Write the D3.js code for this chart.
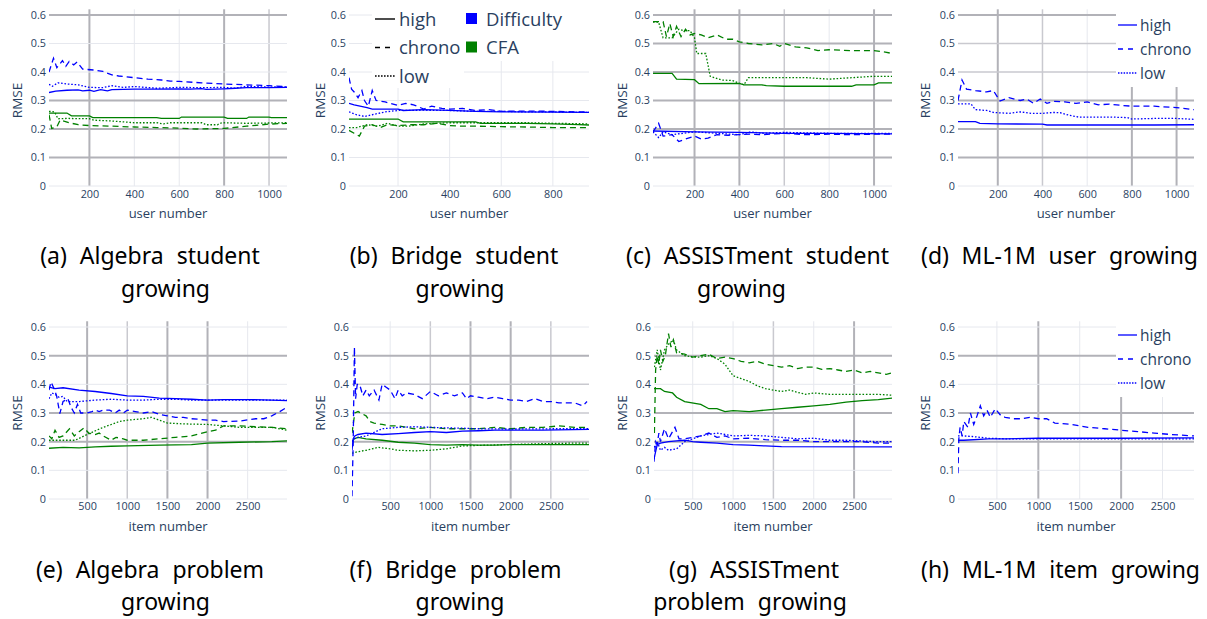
<!DOCTYPE html>
<html>
<head>
<meta charset="utf-8">
<script src="https://cdn.jsdelivr.net/npm/d3@7"></script>
<style>
  body { margin: 0; background: #fff; }
</style>
</head>
<body>
<script>
// ---- ticks / labels ----
const yTicks = [0, 0.1, 0.2, 0.3, 0.4, 0.5, 0.6];
const userTicks = [200, 400, 600, 800, 1000];
const userTicksBridge = [200, 400, 600, 800];
const itemTicks = [500, 1000, 1500, 2000, 2500];
const strategies = ['high', 'chrono', 'low'];
const models = ['Difficulty', 'CFA'];

// ---- (a) Algebra student growing ----
const aDiffHigh = [[20,.328],[50,.333],[100,.336],[150,.337],[170,.334],[200,.336],[220,.332],[250,.338],[280,.334],[300,.338],[400,.340],[500,.340],[600,.341],[650,.340],[700,.342],[720,.339],[800,.341],[850,.343],[900,.345],[1000,.345],[1080,.346]];
const aDiffChrono = [[20,.40],[40,.448],[55,.415],[80,.44],[95,.42],[110,.437],[130,.425],[145,.435],[170,.41],[220,.407],[260,.402],[300,.39],[330,.386],[400,.38],[460,.375],[520,.372],[560,.368],[600,.367],[700,.362],[800,.358],[900,.355],[1000,.352],[1080,.348]];
const aDiffLow = [[20,.357],[35,.350],[60,.362],[100,.358],[150,.355],[200,.346],[260,.345],[300,.352],[350,.346],[400,.349],[500,.343],[600,.346],[700,.345],[800,.346],[850,.343],[900,.350],[1000,.347],[1080,.348]];
const aCfaHigh = [[20,.256],[100,.256],[120,.246],[200,.246],[215,.24],[500,.24],[520,.237],[600,.237],[610,.242],[800,.242],[815,.237],[900,.237],[910,.242],[1000,.242],[1010,.24],[1080,.24]];
const aCfaChrono = [[20,.25],[32,.202],[55,.208],[70,.232],[110,.222],[150,.215],[200,.212],[300,.21],[400,.207],[500,.205],[600,.203],[680,.2],[800,.202],[900,.21],[1000,.217],[1080,.22]];
const aCfaLow = [[20,.262],[45,.26],[60,.236],[100,.237],[200,.236],[220,.231],[300,.228],[400,.222],[500,.222],[530,.218],[560,.222],[700,.222],[720,.215],[770,.215],[790,.222],[900,.22],[1080,.222]];

// ---- (b) Bridge student growing ----
const bDiffHigh = [[10,.29],[30,.285],[80,.275],[100,.27],[200,.27],[220,.265],[300,.268],[400,.265],[500,.262],[600,.26],[940,.258]];
const bDiffChrono = [[10,.38],[20,.34],[30,.33],[45,.31],[60,.335],[70,.30],[85,.28],[100,.335],[115,.30],[150,.295],[200,.283],[230,.29],[260,.285],[300,.27],[330,.28],[370,.272],[400,.27],[450,.272],[500,.265],[550,.268],[600,.262],[700,.263],[800,.262],[900,.26],[940,.26]];
const bDiffLow = [[10,.26],[40,.25],[70,.244],[100,.25],[150,.26],[200,.265],[300,.266],[400,.265],[500,.262],[600,.262],[700,.26],[800,.26],[940,.258]];
const bCfaHigh = [[10,.235],[200,.235],[220,.225],[500,.225],[520,.22],[700,.22],[800,.218],[900,.215],[940,.214]];
const bCfaChrono = [[10,.195],[30,.185],[50,.175],[70,.21],[100,.215],[130,.205],[160,.215],[200,.212],[250,.215],[300,.215],[350,.22],[400,.212],[450,.21],[500,.21],[600,.208],[700,.207],[800,.205],[940,.205]];
const bCfaLow = [[10,.205],[40,.205],[80,.215],[120,.21],[160,.22],[200,.21],[240,.21],[300,.218],[400,.222],[500,.222],[600,.222],[700,.222],[800,.22],[940,.218]];

// ---- (c) ASSISTment student growing ----
const cDiffHigh = [[15,.193],[200,.19],[400,.188],[600,.185],[800,.185],[1080,.183]];
const cDiffChrono = [[15,.19],[40,.22],[60,.175],[100,.18],[130,.156],[160,.165],[200,.175],[230,.165],[260,.168],[300,.18],[350,.178],[400,.18],[450,.182],[500,.18],[600,.185],[700,.18],[800,.182],[900,.18],[1000,.182],[1080,.182]];
const cDiffLow = [[15,.19],[40,.17],[60,.19],[100,.18],[150,.185],[200,.19],[300,.185],[400,.18],[450,.19],[500,.185],[600,.188],[800,.185],[1080,.185]];
const cCfaHigh = [[15,.395],[100,.395],[120,.375],[200,.373],[220,.359],[400,.36],[420,.355],[500,.355],[520,.352],[600,.35],[900,.35],[920,.355],[1000,.355],[1020,.362],[1080,.362]];
const cCfaChrono = [[15,.577],[60,.577],[75,.524],[90,.57],[105,.524],[120,.56],[140,.524],[160,.55],[180,.53],[200,.535],[230,.53],[260,.52],[300,.53],[340,.515],[370,.515],[400,.506],[440,.50],[500,.495],[550,.50],[580,.49],[600,.50],[650,.488],[700,.485],[750,.475],[800,.478],[900,.475],[1000,.475],[1050,.47],[1080,.465]];
const cCfaLow = [[15,.575],[40,.575],[60,.52],[100,.52],[130,.55],[150,.545],[180,.545],[200,.52],[210,.465],[250,.465],[270,.385],[320,.372],[370,.37],[400,.36],[420,.355],[440,.38],[500,.38],[700,.38],[800,.375],[900,.38],[1000,.385],[1080,.385]];

// ---- (d) ML-1M user growing ----
const dHigh = [[22,.226],[100,.226],[120,.22],[200,.218],[400,.217],[420,.214],[900,.214],[1078,.215]];
const dChrono = [[22,.30],[40,.372],[60,.34],[100,.335],[150,.33],[180,.335],[210,.298],[250,.31],[300,.30],[330,.305],[360,.29],[390,.305],[420,.29],[450,.297],[500,.295],[550,.29],[600,.295],[650,.285],[700,.287],[750,.283],[800,.28],[900,.28],[1000,.275],[1078,.268]];
const dLow = [[22,.288],[80,.288],[100,.268],[150,.265],[180,.258],[250,.255],[300,.26],[350,.255],[400,.255],[450,.258],[480,.257],[520,.248],[560,.242],[700,.242],[780,.24],[800,.235],[900,.237],[1000,.237],[1078,.234]];

// ---- (e) Algebra problem growing ----
const eDiffHigh = [[25,.39],[100,.385],[200,.388],[400,.38],[600,.375],[800,.368],[1000,.36],[1200,.358],[1400,.352],[1600,.35],[1800,.348],[2000,.345],[2200,.347],[2500,.347],[2800,.345],[2990,.343]];
const eDiffChrono = [[25,.38],[50,.408],[80,.39],[120,.36],[160,.298],[200,.34],[260,.35],[300,.32],[340,.30],[380,.33],[420,.30],[500,.30],[560,.305],[600,.31],[650,.305],[700,.31],[780,.31],[850,.30],[900,.31],[950,.30],[1000,.31],[1100,.305],[1200,.30],[1300,.305],[1400,.295],[1500,.29],[1600,.285],[1700,.285],[1800,.28],[1900,.278],[2000,.275],[2100,.275],[2200,.27],[2400,.272],[2600,.28],[2700,.28],[2800,.29],[2900,.305],[2990,.32]];
const eDiffLow = [[25,.35],[60,.37],[100,.365],[150,.355],[200,.358],[250,.34],[400,.34],[600,.345],[800,.348],[1000,.345],[1200,.345],[1400,.348],[1600,.348],[1800,.345],[2000,.345],[2400,.345],[2800,.345],[2990,.345]];
const eCfaHigh = [[25,.177],[200,.18],[400,.178],[600,.182],[800,.184],[1000,.185],[1400,.188],[1800,.19],[2000,.195],[2400,.198],[2800,.2],[2990,.203]];
const eCfaChrono = [[25,.22],[60,.21],[100,.24],[150,.215],[200,.22],[280,.245],[340,.22],[400,.235],[460,.248],[520,.23],[600,.225],[650,.23],[700,.22],[800,.205],[860,.215],[950,.21],[1000,.205],[1200,.205],[1400,.21],[1600,.215],[1800,.22],[2000,.235],[2100,.24],[2200,.255],[2400,.255],[2600,.252],[2800,.25],[2990,.245]];
const eCfaLow = [[25,.205],[200,.205],[350,.205],[500,.225],[700,.25],[900,.27],[1000,.275],[1200,.28],[1300,.285],[1400,.275],[1500,.265],[1700,.262],[2000,.26],[2200,.255],[2400,.25],[2800,.25],[2990,.24]];

// ---- (f) Bridge problem growing ----
const fDiffHigh = [[25,.17],[40,.21],[60,.22],[100,.225],[200,.23],[400,.225],[600,.228],[800,.232],[1000,.235],[1200,.232],[1400,.237],[1600,.238],[1800,.24],[2400,.24],[2975,.243]];
const fDiffChrono = [[25,.01],[40,.20],[55,.53],[70,.35],[90,.40],[120,.40],[160,.36],[200,.38],[240,.36],[300,.38],[360,.345],[400,.40],[450,.39],[500,.38],[560,.35],[600,.38],[650,.36],[700,.37],[800,.365],[900,.35],[1000,.375],[1100,.36],[1200,.37],[1300,.36],[1400,.37],[1450,.35],[1500,.36],[1600,.355],[1700,.35],[1800,.355],[1900,.35],[2000,.345],[2100,.345],[2200,.34],[2300,.35],[2400,.34],[2500,.34],[2600,.335],[2700,.335],[2800,.335],[2900,.325],[2950,.34]];
const fDiffLow = [[25,.20],[50,.21],[100,.215],[200,.22],[400,.245],[600,.25],[800,.252],[1000,.25],[1200,.248],[1400,.247],[1600,.245],[2000,.244],[2500,.245],[2975,.245]];
const fCfaHigh = [[25,.20],[50,.21],[100,.215],[200,.21],[400,.205],[600,.198],[800,.195],[1000,.19],[1200,.188],[1400,.19],[1600,.188],[1800,.188],[2000,.19],[2975,.19]];
const fCfaChrono = [[25,.23],[60,.30],[100,.305],[200,.29],[250,.27],[300,.265],[400,.26],[500,.255],[600,.255],[800,.245],[1000,.25],[1200,.245],[1600,.245],[1800,.25],[2000,.245],[2200,.25],[2400,.25],[2600,.255],[2800,.25],[2975,.25]];
const fCfaLow = [[25,.16],[100,.165],[200,.17],[350,.18],[500,.175],[600,.17],[800,.168],[1000,.17],[1200,.175],[1400,.185],[1600,.187],[2000,.19],[2400,.193],[2800,.195],[2975,.195]];

// ---- (g) ASSISTment problem growing ----
const gDiffHigh = [[20,.14],[60,.19],[100,.195],[200,.20],[300,.203],[400,.205],[500,.20],[600,.198],[800,.195],[1000,.19],[1200,.188],[1400,.185],[1600,.183],[2970,.182]];
const gDiffChrono = [[20,.13],[40,.20],[60,.19],[80,.23],[100,.20],[150,.245],[200,.21],[280,.25],[330,.21],[400,.21],[500,.215],[600,.22],[700,.23],[800,.215],[900,.22],[1000,.21],[1200,.212],[1400,.207],[1600,.205],[1800,.205],[2000,.2],[2600,.2],[2800,.195],[2970,.195]];
const gDiffLow = [[20,.18],[60,.2],[100,.17],[150,.18],[200,.17],[300,.175],[400,.2],[500,.21],[600,.22],[700,.225],[800,.23],[900,.225],[1000,.22],[1200,.222],[1400,.22],[1600,.215],[1800,.21],[2000,.212],[2200,.205],[2400,.205],[2600,.202],[2800,.2],[2970,.2]];
const gCfaHigh = [[20,.385],[100,.385],[150,.375],[250,.37],[300,.355],[400,.34],[600,.33],[700,.315],[800,.315],[900,.305],[1000,.308],[1200,.305],[1400,.31],[1600,.315],[1800,.32],[2000,.325],[2200,.33],[2400,.338],[2600,.343],[2800,.347],[2970,.352]];
const gCfaChrono = [[25,.23],[40,.45],[60,.50],[80,.47],[100,.52],[130,.48],[160,.50],[200,.577],[230,.53],[260,.555],[300,.51],[400,.505],[500,.495],[600,.50],[700,.505],[800,.49],[900,.495],[1000,.49],[1100,.48],[1200,.475],[1300,.48],[1400,.47],[1500,.465],[1600,.46],[1700,.465],[1800,.455],[1900,.46],[2000,.46],[2100,.452],[2200,.455],[2300,.45],[2400,.445],[2500,.45],[2600,.44],[2700,.445],[2800,.44],[2900,.435],[2970,.44]];
const gCfaLow = [[25,.46],[60,.52],[100,.45],[150,.52],[200,.54],[260,.555],[300,.52],[400,.50],[500,.495],[600,.495],[700,.5],[800,.49],[900,.47],[1000,.43],[1100,.42],[1200,.41],[1300,.395],[1400,.385],[1500,.38],[1600,.375],[1700,.38],[1800,.372],[1900,.365],[2000,.37],[2200,.365],[2800,.365],[2970,.362]];

// ---- (h) ML-1M item growing ----
const hHigh = [[30,.205],[100,.205],[400,.21],[600,.21],[1000,.212],[2000,.212],[2880,.213]];
const hChrono = [[30,.09],[40,.21],[55,.25],[80,.22],[100,.27],[150,.25],[180,.30],[220,.26],[260,.29],[300,.325],[340,.29],[380,.31],[420,.285],[480,.315],[550,.29],[600,.285],[700,.28],[800,.28],[900,.285],[1000,.28],[1100,.28],[1200,.265],[1400,.26],[1600,.25],[1800,.245],[2000,.24],[2200,.235],[2400,.23],[2600,.225],[2880,.22]];
const hLow = [[30,.22],[100,.22],[200,.218],[400,.212],[600,.21],[1000,.21],[2000,.21],[2880,.21]];

// ---- styling ----
const modelColor = { Difficulty: '#0000ff', CFA: '#008000' };
const dashFor = { high: null, chrono: '6,4', low: '1.6,1.8' };
const gridStyle = {
  d: { stroke: '#b2b2b8', width: 2 },
  m: { stroke: '#c9c9cf', width: 1.5 },
  l: { stroke: '#e6e8ee', width: 1 }
};
const tickColor = '#2a3f5f';
const rows = [
  { y0: 186, y6: 15, tickY: 198, titleY: 218 },
  { y0: 499, y6: 327, tickY: 510, titleY: 531 }
];

const ser = (data, model, strategy) => ({ data, model, strategy });

// caption lines: [text, left, right, baseline]
const panels = [
  { row: 0, x0: 49, x1: 287, dom: [20, 1080], ticks: userTicks, title: 'user number', rmseX: 17,
    gx: 'dlldm', gy: 'ldddlld',
    series: [ser(aCfaHigh,'CFA','high'), ser(aCfaChrono,'CFA','chrono'), ser(aCfaLow,'CFA','low'),
             ser(aDiffHigh,'Difficulty','high'), ser(aDiffChrono,'Difficulty','chrono'), ser(aDiffLow,'Difficulty','low')],
    caption: [['(a) Algebra student', 35, 265, 264], ['growing', 131, 200, 297]] },
  { row: 0, x0: 349, x1: 589, dom: [10, 940], ticks: userTicksBridge, title: 'user number', rmseX: 320,
    gx: 'llll', gy: 'lllllll', legend: 'full',
    series: [ser(bCfaHigh,'CFA','high'), ser(bCfaChrono,'CFA','chrono'), ser(bCfaLow,'CFA','low'),
             ser(bDiffHigh,'Difficulty','high'), ser(bDiffChrono,'Difficulty','chrono'), ser(bDiffLow,'Difficulty','low')],
    caption: [['(b) Bridge student', 348, 560, 264], ['growing', 424, 496, 297]] },
  { row: 0, x0: 653, x1: 892, dom: [15, 1080], ticks: userTicks, title: 'user number', rmseX: 622,
    gx: 'ddmld', gy: 'ldddddd',
    series: [ser(cCfaHigh,'CFA','high'), ser(cCfaChrono,'CFA','chrono'), ser(cCfaLow,'CFA','low'),
             ser(cDiffHigh,'Difficulty','high'), ser(cDiffChrono,'Difficulty','chrono'), ser(cDiffLow,'Difficulty','low')],
    caption: [['(c) ASSISTment student', 618, 897, 264], ['growing', 706, 777, 297]] },
  { row: 0, x0: 958, x1: 1194, dom: [22, 1078], ticks: userTicks, title: 'user number', rmseX: 925,
    gx: 'dmldd', gy: 'ldddmmd', legend: 'blue',
    series: [ser(dHigh,'Difficulty','high'), ser(dChrono,'Difficulty','chrono'), ser(dLow,'Difficulty','low')],
    caption: [['(d) ML-1M user growing', 921, 1198, 264]] },
  { row: 1, x0: 49, x1: 287, dom: [25, 2990], ticks: itemTicks, title: 'item number', rmseX: 17,
    gx: 'dmddl', gy: 'llddldl',
    series: [ser(eCfaHigh,'CFA','high'), ser(eCfaChrono,'CFA','chrono'), ser(eCfaLow,'CFA','low'),
             ser(eDiffHigh,'Difficulty','high'), ser(eDiffChrono,'Difficulty','chrono'), ser(eDiffLow,'Difficulty','low')],
    caption: [['(e) Algebra problem', 35, 265, 578], ['growing', 131, 200, 610]] },
  { row: 1, x0: 352, x1: 589, dom: [25, 2975], ticks: itemTicks, title: 'item number', rmseX: 320,
    gx: 'lmddm', gy: 'lldmmdl',
    series: [ser(fCfaHigh,'CFA','high'), ser(fCfaChrono,'CFA','chrono'), ser(fCfaLow,'CFA','low'),
             ser(fDiffHigh,'Difficulty','high'), ser(fDiffChrono,'Difficulty','chrono'), ser(fDiffLow,'Difficulty','low')],
    caption: [['(f) Bridge problem', 348, 563, 578], ['growing', 424, 496, 610]] },
  { row: 1, x0: 654, x1: 892, dom: [20, 2970], ticks: itemTicks, title: 'item number', rmseX: 622,
    gx: 'llmld', gy: 'llddldl',
    series: [ser(gCfaHigh,'CFA','high'), ser(gCfaChrono,'CFA','chrono'), ser(gCfaLow,'CFA','low'),
             ser(gDiffHigh,'Difficulty','high'), ser(gDiffChrono,'Difficulty','chrono'), ser(gDiffLow,'Difficulty','low')],
    caption: [['(g) ASSISTment', 658, 850, 578], ['problem growing', 640, 860, 610]] },
  { row: 1, x0: 958, x1: 1194, dom: [30, 2880], ticks: itemTicks, title: 'item number', rmseX: 925,
    gx: 'ldldl', gy: 'llddldl', legend: 'blue',
    series: [ser(hHigh,'Difficulty','high'), ser(hChrono,'Difficulty','chrono'), ser(hLow,'Difficulty','low')],
    caption: [['(h) ML-1M item growing', 921, 1200, 578]] }
];

const svg = d3.select('body').append('svg')
  .attr('width', 1207)
  .attr('height', 619)
  .style('display', 'block');

const fmtY = d => d === 0 ? '0' : d3.format('.1f')(d);
const fmtX = d3.format('d');

panels.forEach((p, pi) => {
  const r = rows[p.row];
  const x = d3.scaleLinear().domain(p.dom).range([p.x0, p.x1]);
  const y = d3.scaleLinear().domain([0, 0.6]).range([r.y0, r.y6]);
  const top = y(0.62);
  const g = svg.append('g');

  // gridlines
  p.ticks.forEach((t, i) => {
    const s = gridStyle[p.gx[i]];
    g.append('line')
      .attr('x1', x(t)).attr('x2', x(t))
      .attr('y1', top).attr('y2', r.y0)
      .attr('stroke', s.stroke).attr('stroke-width', s.width);
  });
  yTicks.forEach((t, i) => {
    const s = gridStyle[p.gy[i]];
    g.append('line')
      .attr('x1', p.x0).attr('x2', p.x1)
      .attr('y1', y(t)).attr('y2', y(t))
      .attr('stroke', s.stroke).attr('stroke-width', s.width);
  });

  // axes (labels only)
  const xa = g.append('g')
    .attr('transform', `translate(0,${r.y0})`)
    .call(d3.axisBottom(x).tickValues(p.ticks).tickFormat(fmtX).tickSize(0).tickPadding(r.tickY - r.y0 - 8));
  const ya = g.append('g')
    .attr('transform', `translate(${p.x0},0)`)
    .call(d3.axisLeft(y).tickValues(yTicks).tickFormat(fmtY).tickSize(0).tickPadding(3));
  [xa, ya].forEach(a => {
    a.select('.domain').remove();
    a.attr('font-family', '"Open Sans", sans-serif').attr('font-size', 10.8);
    a.selectAll('text').attr('fill', tickColor);
  });

  g.append('text')
    .attr('x', (p.x0 + p.x1) / 2).attr('y', r.titleY)
    .attr('text-anchor', 'middle')
    .attr('font-family', '"Open Sans", sans-serif').attr('font-size', 13)
    .attr('fill', tickColor)
    .text(p.title);
  g.append('text')
    .attr('transform', `translate(${p.rmseX + 5},${(r.y0 + r.y6) / 2}) rotate(-90)`)
    .attr('text-anchor', 'middle')
    .attr('font-family', '"Open Sans", sans-serif').attr('font-size', 13.5)
    .attr('fill', tickColor)
    .text('RMSE');

  // lines
  const clipId = 'clip' + pi;
  svg.append('clipPath').attr('id', clipId)
    .append('rect').attr('x', p.x0).attr('y', top).attr('width', p.x1 - p.x0).attr('height', r.y0 - top);
  const line = d3.line().x(d => x(d[0])).y(d => y(d[1]));
  g.append('g').attr('clip-path', `url(#${clipId})`)
    .selectAll('path').data(p.series).join('path')
    .attr('d', s => line(s.data))
    .attr('fill', 'none')
    .attr('stroke', s => modelColor[s.model])
    .attr('stroke-width', 1.3)
    .attr('stroke-dasharray', s => dashFor[s.strategy]);

  // legends
  const lf = '"Open Sans", sans-serif';
  if (p.legend === 'full') {
    g.append('rect').attr('x', 372).attr('y', 0).attr('width', 92).attr('height', 88).attr('fill', '#fff');
    g.append('rect').attr('x', 462).attr('y', 0).attr('width', 127).attr('height', 61).attr('fill', '#fff');
    strategies.forEach((s, i) => {
      const cy = 19 + i * 28.5;
      g.append('line').attr('x1', 375).attr('x2', 395).attr('y1', cy).attr('y2', cy)
        .attr('stroke', '#000').attr('stroke-width', 1.4).attr('stroke-dasharray', dashFor[s] ? (s === 'chrono' ? '5,5' : '1.6,1.4') : null);
      g.append('text').attr('x', 399).attr('y', cy + 6.5)
        .attr('font-family', lf).attr('font-size', 18.5).attr('fill', tickColor).text(s);
    });
    models.forEach((m, i) => {
      const cy = 19 + i * 28.5;
      g.append('rect').attr('x', 466).attr('y', cy - 6).attr('width', 11).attr('height', 11)
        .attr('fill', modelColor[m]);
      g.append('text').attr('x', 486).attr('y', cy + 6.5)
        .attr('font-family', lf).attr('font-size', 18.5).attr('fill', tickColor).text(m);
    });
  } else if (p.legend === 'blue') {
    const oy = p.row === 0 ? 0 : 310;
    g.append('rect').attr('x', 1116).attr('y', oy).attr('width', 91).attr('height', 87).attr('fill', '#fff');
    strategies.forEach((s, i) => {
      const cy = oy + 25 + i * 24;
      g.append('line').attr('x1', 1118).attr('x2', 1137).attr('y1', cy).attr('y2', cy)
        .attr('stroke', modelColor.Difficulty).attr('stroke-width', 1.3)
        .attr('stroke-dasharray', dashFor[s] ? (s === 'chrono' ? '5,5' : '1.5,1.3') : null);
      g.append('text').attr('x', 1140).attr('y', cy + 5.5)
        .attr('font-family', lf).attr('font-size', 15.5).attr('fill', tickColor).text(s);
    });
  }

  // caption: widen word gaps a little towards the target width, then centre the line
  p.caption.forEach(([txt, left, right, by]) => {
    const t = svg.append('text')
      .attr('y', by)
      .attr('font-family', '"Noto Sans", sans-serif').attr('font-size', 23)
      .attr('fill', '#000')
      .text(txt);
    let w = t.node().getComputedTextLength();
    const gaps = (txt.match(/ /g) || []).length;
    const target = right - left;
    if (gaps > 0 && w < target) {
      const ws = Math.min((target - w) / gaps, 7);
      t.attr('word-spacing', ws);
      w += ws * gaps;
    }
    t.attr('x', (left + right) / 2 - w / 2);
  });
});
</script>
</body>
</html>
